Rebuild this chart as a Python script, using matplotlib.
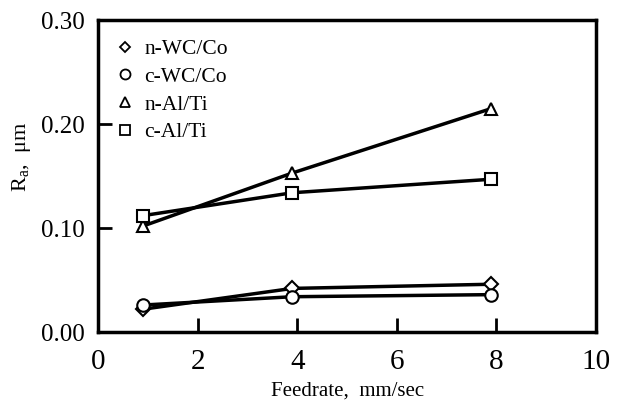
import matplotlib
matplotlib.use("Agg")
import matplotlib.pyplot as plt
from matplotlib.lines import Line2D

plt.rcParams['font.family'] = ['Liberation Serif', 'DejaVu Serif']
plt.rcParams['mathtext.fontset'] = 'custom'
plt.rcParams['mathtext.rm'] = 'Liberation Serif'

feedrate = [0.9, 3.9, 7.9]
series_names = ["n-WC/Co", "c-WC/Co", "n-Al/Ti", "c-Al/Ti"]
n_wc = [0.022, 0.042, 0.046]
c_wc = [0.026, 0.034, 0.036]
n_al = [0.102, 0.153, 0.215]
c_al = [0.112, 0.134, 0.147]
markers = ["D", "o", "^", "s"]
sizes = [7, 9, 9, 9]
xticks = [0, 2, 4, 6, 8, 10]
yticks = [0.00, 0.10, 0.20, 0.30]
ytick_labels = ["0.00", "0.10", "0.20", "0.30"]

fig = plt.figure(figsize=(6.22, 4.03), dpi=100)
ax = fig.add_axes([0.158, 0.176, 0.80, 0.774])

for vals, m, s in zip([n_wc, c_wc, n_al, c_al], markers, sizes):
    ax.plot(feedrate, vals, color='black', lw=2.5, marker=m, ms=s,
            mfc='white', mec='black', mew=1.5, zorder=3)

ax.set_xlim(0, 10)
ax.set_ylim(0, 0.30)
ax.set_xticks(xticks)
ax.set_yticks(yticks)
ax.set_yticklabels(ytick_labels)
ax.tick_params(direction='in', length=10, width=2,
               top=False, right=False)
ax.tick_params(axis='x', pad=12, labelsize=21)
ax.tick_params(axis='y', pad=10, labelsize=18)
for sp in ax.spines.values():
    sp.set_linewidth(2.5)

ax.set_xlabel("Feedrate,  mm/sec", fontsize=15, labelpad=5)
ax.set_ylabel(r"R$_\mathrm{a}$,  μm", fontsize=16)
ax.yaxis.set_label_coords(-0.132, 0.56)

handles = [Line2D([], [], ls='none', marker=m, ms=s * 0.8, mfc='white',
                  mec='black', mew=1.3, color='black')
           for m, s in zip(markers, sizes)]
ax.legend(handles, series_names, loc='upper left', frameon=False,
          fontsize=15.5, handlelength=0.8, handletextpad=0.5,
          labelspacing=0.35, borderaxespad=0.2, bbox_to_anchor=(0.01, 0.98))

fig.savefig("out.png", dpi=100)
